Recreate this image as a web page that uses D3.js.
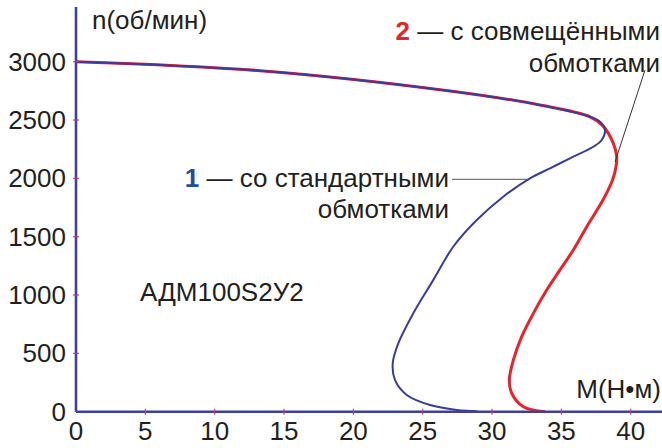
<!DOCTYPE html>
<html>
<head>
<meta charset="utf-8">
<script src="https://cdn.jsdelivr.net/npm/d3@7"></script>
<style>
  html, body { margin: 0; padding: 0; background: #fff; }
  svg { display: block; font-family: "Liberation Sans", Arial, sans-serif; }
</style>
</head>
<body>
<svg id="chart" width="662" height="448"></svg>
<script>
// ---- data ----
const xTicks = [0, 5, 10, 15, 20, 25, 30, 35, 40];
const yTicks = [0, 500, 1000, 1500, 2000, 2500, 3000];

// Curve 2 (combined windings) - torque M (N·m) vs speed n (rpm)
const redM = [0, 13.27, 26.97, 33.46, 37.07, 38.0, 38.75, 38.99, 38.94, 38.69, 38.0, 36.83, 35.86, 34.9, 33.94, 32.98, 32.14, 31.54, 31.25, 31.42, 32.26, 33.82];
const redN = [3000, 2923, 2749, 2629, 2528, 2450, 2300, 2186, 2100, 1986, 1814, 1586, 1386, 1215, 1043, 843, 643, 443, 272, 158, 43, 0];

// Curve 1 (standard windings)
const blueM = [0, 13.27, 26.97, 33.46, 37.0, 37.79, 38.15, 37.91, 37.3, 35.62, 34.18, 32.74, 30.81, 28.9, 27.2, 25.77, 24.32, 23.24, 22.84, 23.0, 23.85, 25.53, 27.45, 28.65, 29.0];
const blueN = [3000, 2923, 2749, 2629, 2530, 2486, 2414, 2329, 2271, 2172, 2086, 2000, 1843, 1643, 1414, 1130, 843, 586, 415, 272, 143, 57, 15, 6, 0];

// ---- drawing ----
const svg = d3.select("#chart");
const x = d3.scaleLinear().domain([0, 40]).range([76, 630.7]);
const y = d3.scaleLinear().domain([0, 3000]).range([411.7, 61.7]);

const textColor = "#231f20";
const axisColor = "#3f3f9c";
const tickColor = "#b5407f";
const fs = 26;

// curves
const line = d3.line().x(d => x(d[0])).y(d => y(d[1])).curve(d3.curveCatmullRom.alpha(0.5));
const redData = redM.map((m, i) => [m, redN[i]]);
const blueData = blueM.map((m, i) => [m, blueN[i]]);

svg.append("path").attr("d", line(redData)).attr("fill", "none")
  .attr("stroke", "#e8232b").attr("stroke-width", 3);
svg.append("path").attr("d", line(blueData)).attr("fill", "none")
  .attr("stroke", "#3b3b9a").attr("stroke-width", 2);

// axes lines
svg.append("line").attr("x1", x(0)).attr("x2", 662).attr("y1", y(0)).attr("y2", y(0))
  .attr("stroke", axisColor).attr("stroke-width", 2.6);
svg.append("line").attr("x1", x(0)).attr("x2", x(0)).attr("y1", 7).attr("y2", y(0))
  .attr("stroke", axisColor).attr("stroke-width", 2.6);

// tick marks
svg.selectAll(".xt").data(xTicks.slice(1)).enter().append("line")
  .attr("x1", d => x(d)).attr("x2", d => x(d)).attr("y1", y(0) - 3).attr("y2", y(0) + 3)
  .attr("stroke", tickColor).attr("stroke-width", 1.2);
svg.selectAll(".yt").data(yTicks.slice(1)).enter().append("line")
  .attr("x1", x(0) - 3).attr("x2", x(0) + 3).attr("y1", d => y(d)).attr("y2", d => y(d))
  .attr("stroke", tickColor).attr("stroke-width", 1.2);

// tick labels
svg.selectAll(".xl").data(xTicks).enter().append("text")
  .attr("x", d => x(d)).attr("y", 440).attr("text-anchor", "middle")
  .attr("font-size", fs).attr("fill", textColor).text(d => d);
svg.selectAll(".yl").data(yTicks).enter().append("text")
  .attr("x", 66).attr("y", d => y(d) + 9).attr("text-anchor", "end")
  .attr("font-size", fs).attr("fill", textColor).text(d => d);

// axis titles
svg.append("text").attr("x", 92).attr("y", 29).attr("font-size", fs).attr("fill", textColor).text("n(об/мин)");
svg.append("text").attr("x", 661).attr("y", 398).attr("text-anchor", "end").attr("font-size", fs).attr("fill", textColor).text("M(H•м)");

// model name
svg.append("text").attr("x", 140).attr("y", 301).attr("font-size", fs).attr("fill", textColor).text("АДМ100S2У2");

// legend 2
const t2 = svg.append("text").attr("x", 660).attr("y", 40).attr("text-anchor", "end").attr("font-size", fs).attr("fill", textColor);
t2.append("tspan").attr("fill", "#e52629").attr("font-weight", "bold").text("2");
t2.append("tspan").text(" — с совмещёнными");
svg.append("text").attr("x", 660).attr("y", 72).attr("text-anchor", "end").attr("font-size", fs).attr("fill", textColor).text("обмотками");
svg.append("line").attr("x1", 645).attr("y1", 70).attr("x2", 615).attr("y2", 162)
  .attr("stroke", "#333").attr("stroke-width", 1);

// legend 1
const t1 = svg.append("text").attr("x", 449).attr("y", 187).attr("text-anchor", "end").attr("font-size", fs).attr("fill", textColor);
t1.append("tspan").attr("fill", "#1f4e9c").attr("font-weight", "bold").text("1");
t1.append("tspan").text(" — со стандартными");
svg.append("text").attr("x", 449).attr("y", 218).attr("text-anchor", "end").attr("font-size", fs).attr("fill", textColor).text("обмотками");
svg.append("line").attr("x1", 452).attr("y1", 179.3).attr("x2", 529).attr("y2", 179.3)
  .attr("stroke", "#555").attr("stroke-width", 1);
</script>
</body>
</html>
